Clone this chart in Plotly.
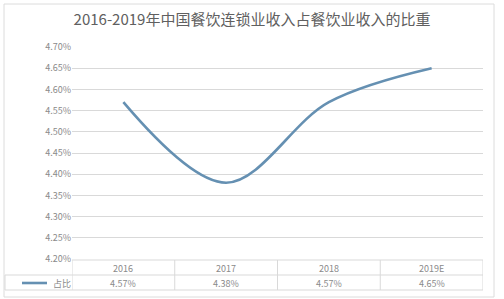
import plotly.graph_objects as go

categories = ["2016", "2017", "2018", "2019E"]
values = [4.57, 4.38, 4.57, 4.65]
value_labels = ["4.57%", "4.38%", "4.57%", "4.65%"]
series_name = "占比"
title_text = "2016-2019年中国餐饮连锁业收入占餐饮业收入的比重"

W, H = 504, 299
L, R, T, B = 72, 21, 47, 40
PH = H - T - B
PW = W - L - R

def py(Y):
    return (H - B - Y) / PH

def px(X):
    return (X - L) / PW

FONT = "Noto Sans CJK SC"
GRID = "#d9d9d9"
TXT = "#8a8a8a"
LINE = "#6590b2"

fig = go.Figure()
fig.add_trace(go.Scatter(
    x=list(range(len(categories))), y=values, mode="lines",
    line=dict(color=LINE, width=2.6, shape="spline", smoothing=1.0),
    name=series_name, showlegend=False, hoverinfo="skip"))

shapes = []
# outer border
shapes.append(dict(type="rect", xref="paper", yref="paper",
                   x0=px(4), x1=px(494), y0=py(297), y1=py(4),
                   line=dict(color="#dcdcdc", width=1), layer="below"))
# table horizontal lines
shapes.append(dict(type="line", xref="paper", yref="paper", x0=0, x1=1,
                   y0=py(260), y1=py(260), line=dict(color=GRID, width=1)))
shapes.append(dict(type="line", xref="paper", yref="paper", x0=px(5), x1=1,
                   y0=py(275), y1=py(275), line=dict(color=GRID, width=1)))
shapes.append(dict(type="line", xref="paper", yref="paper", x0=px(5), x1=1,
                   y0=py(290), y1=py(290), line=dict(color=GRID, width=1)))
# vertical lines
for i in range(len(categories) + 1):
    shapes.append(dict(type="line", xref="x", yref="paper", x0=i - 0.5, x1=i - 0.5,
                       y0=py(260), y1=py(290), line=dict(color=GRID, width=1)))
shapes.append(dict(type="line", xref="paper", yref="paper", x0=px(5), x1=px(5),
                   y0=py(275), y1=py(290), line=dict(color=GRID, width=1)))
# legend key line
shapes.append(dict(type="line", xref="paper", yref="paper", x0=px(22), x1=px(47),
                   y0=py(283), y1=py(283), line=dict(color=LINE, width=2.6)))

annotations = []
for i, c in enumerate(categories):
    annotations.append(dict(x=i, y=py(268), xref="x", yref="paper", text=c,
                            showarrow=False, font=dict(family=FONT, size=9, color=TXT),
                            xanchor="center", yanchor="middle"))
    annotations.append(dict(x=i, y=py(283), xref="x", yref="paper", text=value_labels[i],
                            showarrow=False, font=dict(family=FONT, size=9, color=TXT),
                            xanchor="center", yanchor="middle"))
annotations.append(dict(x=px(51), y=py(283), xref="paper", yref="paper", text=series_name,
                        showarrow=False, font=dict(family=FONT, size=9, color=TXT),
                        xanchor="left", yanchor="middle"))

fig.update_layout(
    width=W, height=H,
    margin=dict(l=L, r=R, t=T, b=B),
    paper_bgcolor="white", plot_bgcolor="white",
    title=dict(text=title_text, x=0.5, xref="container", xanchor="center",
               y=1 - 20 / H, yref="container", yanchor="middle",
               font=dict(family=FONT, size=15, color="#606060")),
    xaxis=dict(range=[-0.5, len(categories) - 0.5], showticklabels=False,
               showgrid=False, zeroline=False, showline=False, fixedrange=True),
    yaxis=dict(range=[4.20, 4.70], dtick=0.05, tick0=4.20, tickformat=".2f",
               ticksuffix="%", showgrid=True, gridcolor=GRID, gridwidth=1,
               zeroline=False, showline=False, ticks="", ticklen=0,
               tickfont=dict(family=FONT, size=9, color=TXT), fixedrange=True),
    shapes=shapes, annotations=annotations,
    showlegend=False,
)

fig.write_html("out.html")
